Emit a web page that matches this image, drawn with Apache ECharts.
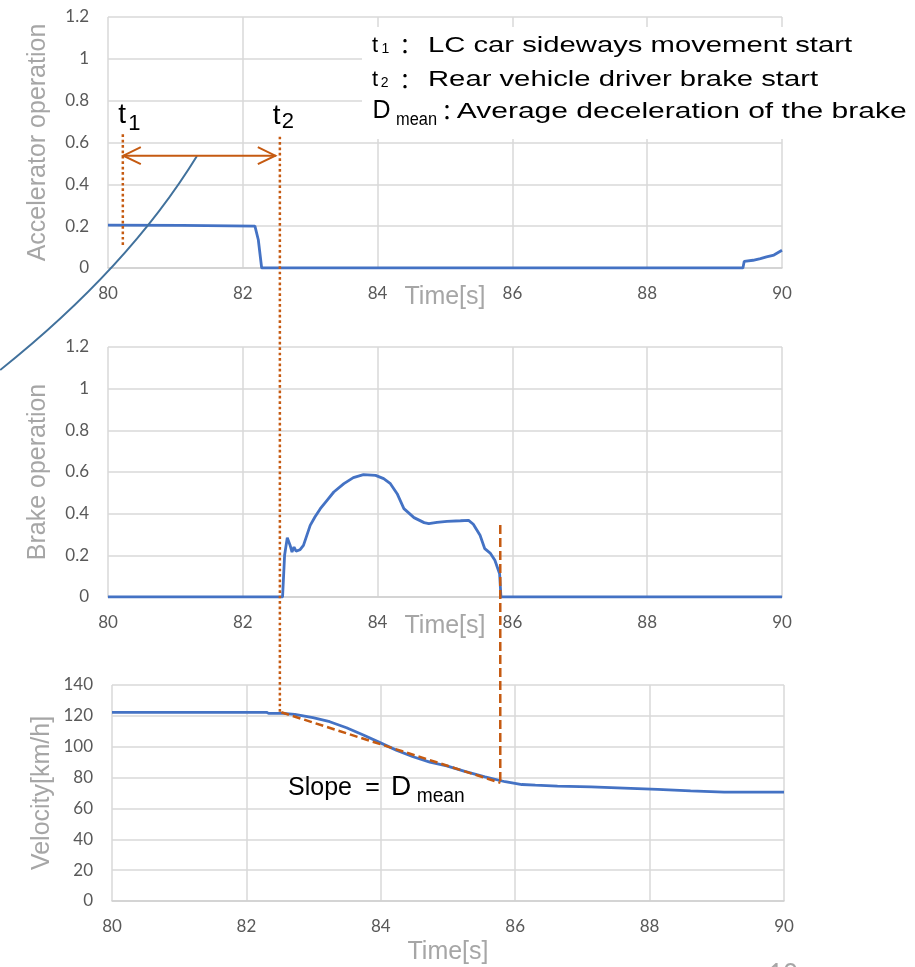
<!DOCTYPE html>
<html>
<head>
<meta charset="utf-8">
<script src="https://cdn.jsdelivr.net/npm/echarts@6/dist/echarts.min.js"></script>
<style>html,body{margin:0;padding:0;background:#fff;overflow:hidden}#main{width:915px;height:967px}</style>
</head>
<body>
<div id="main"></div>
<script>
// ---------------- data ----------------
const xTicks = [80, 82, 84, 86, 88, 90];

const accelT = [80, 81.1, 81.12, 82.18, 82.23, 82.28, 89.42, 89.44, 89.57, 89.68, 89.77, 89.88, 90];
const accelV = [0.205, 0.204, 0.2, 0.2, 0.135, 0, 0, 0.032, 0.037, 0.045, 0.053, 0.062, 0.085];

const brakeT = [80, 82.59, 82.62, 82.66, 82.70, 82.73, 82.76, 82.79, 82.85, 82.90, 82.95, 83.00, 83.07, 83.15, 83.25, 83.35, 83.50, 83.64, 83.79, 83.97, 84.09, 84.19, 84.29, 84.39, 84.54, 84.69, 84.76, 84.88, 85.03, 85.23, 85.35, 85.42, 85.52, 85.59, 85.67, 85.74, 85.81, 85.83, 90];
const brakeV = [0, 0, 0.2, 0.285, 0.25, 0.216, 0.24, 0.22, 0.227, 0.248, 0.296, 0.344, 0.384, 0.424, 0.464, 0.504, 0.544, 0.573, 0.587, 0.584, 0.568, 0.544, 0.496, 0.424, 0.381, 0.357, 0.352, 0.358, 0.363, 0.366, 0.368, 0.349, 0.296, 0.232, 0.211, 0.176, 0.112, 0, 0];

const velT = [80, 82.3, 82.33, 82.55, 82.72, 82.99, 83.24, 83.49, 83.74, 83.98, 84.23, 84.48, 84.73, 84.98, 85.25, 85.55, 85.85, 86.1, 86.3, 86.63, 87.13, 87.62, 88.12, 88.61, 89.11, 90];
const velV = [122.3, 122.3, 121.6, 121.6, 121.0, 118.8, 116.2, 112.3, 107.6, 102.8, 97.8, 93.5, 90.0, 87.6, 84.0, 80.5, 77.3, 75.5, 75.1, 74.5, 74.0, 73.2, 72.3, 71.4, 70.6, 70.6];

// annotation values (data coordinates)
const t1 = 80.22, t2 = 82.55, tEnd = 85.82;
const t1Range = [0.11, 0.647];
const t2Top = 0.628, t2Bottom = 122.3;
const tEndTop = 0.346, tEndBottom = 77;
const slopeT = [82.52, 85.78];
const slopeV = [122.3, 76.6];
const arrowY = 0.537, arrowEnd = 82.49;
const curvePts = [[78.40, -0.488], [80.30, 0.0], [81.32, 0.535]];

const legendLines = [
  { sym: 't', sub: '1', text: 'LC car sideways movement start' },
  { sym: 't', sub: '2', text: 'Rear vehicle driver brake start' },
  { sym: 'D', sub: 'mean', text: 'Average deceleration of the brake' }
];
const yNames = ['Accelerator operation', 'Brake operation', 'Velocity[km/h]'];

// ---------------- chart ----------------
const zip = (a, b) => a.map((v, i) => [v, b[i]]);
const BLUE = '#4472C4', ORANGE = '#C55A11', GRID = '#D9D9D9';
const TICKFONT = 'Lato, "Open Sans", sans-serif';
const ARIAL = '"Liberation Sans", Arial, sans-serif';

const chart = echarts.init(document.getElementById('main'));

const grids = [
  { left: 108, top: 17, width: 674, height: 251 },
  { left: 108, top: 347, width: 674, height: 250 },
  { left: 112, top: 685, width: 672, height: 216 }
];
const nameGaps = [17, 17, 39];

function xAx(i) {
  return {
    type: 'value', gridIndex: i, min: xTicks[0], max: xTicks[xTicks.length - 1], interval: 2,
    axisLine: { show: true, lineStyle: { color: '#CFCFCF', width: 1.5 } },
    axisTick: { show: false },
    splitLine: { show: true, lineStyle: { color: GRID, width: 1.5 } },
    axisLabel: { color: '#595959', fontSize: 17, fontFamily: TICKFONT, margin: 17 },
    name: 'Time[s]', nameLocation: 'middle', nameGap: nameGaps[i], nameMoveOverlap: false,
    nameTextStyle: { color: '#A6A6A6', fontSize: 25, fontFamily: ARIAL }
  };
}
function yAx(i, max, interval) {
  return {
    type: 'value', gridIndex: i, min: 0, max, interval,
    axisLine: { show: false }, axisTick: { show: false },
    splitLine: { show: true, lineStyle: { color: GRID, width: 1.5 } },
    axisLabel: { color: '#595959', fontSize: 17, fontFamily: TICKFONT, margin: 19 },
    name: yNames[i], nameLocation: 'middle', nameRotate: 90, nameGap: 57, nameMoveOverlap: false,
    nameTextStyle: { color: '#A6A6A6', fontSize: 25, fontFamily: ARIAL }
  };
}

const lineS = (i, data, extra) => Object.assign({
  type: 'line', xAxisIndex: i, yAxisIndex: i, data, showSymbol: false, symbol: 'none',
  lineStyle: { color: BLUE, width: 2.8 }, z: 3, silent: true
}, extra || {});

chart.setOption({
  animation: false,
  backgroundColor: '#fff',
  grid: grids,
  xAxis: [xAx(0), xAx(1), xAx(2)],
  yAxis: [yAx(0, 1.2, 0.2), yAx(1, 1.2, 0.2), yAx(2, 140, 20)],
  series: [
    lineS(0, zip(accelT, accelV)),
    lineS(1, zip(brakeT, brakeV)),
    lineS(2, zip(velT, velV)),
    lineS(0, [[t1, t1Range[0]], [t1, t1Range[1]]], { lineStyle: { color: ORANGE, width: 2.5, type: [2.7, 2.7] }, z: 4 }),
    lineS(2, zip(slopeT, slopeV), { lineStyle: { color: ORANGE, width: 2.5, type: [8, 4] }, z: 4 })
  ]
});

// ---------------- annotations ----------------
const px = (g, x, y) => chart.convertToPixel({ gridIndex: g }, [x, y]);
const mctx = document.createElement('canvas').getContext('2d');
function measure(text, fs, fam) { mctx.font = fs + 'px ' + fam; return mctx.measureText(text).width; }
function txt(x, base, text, fs, o) {
  o = o || {};
  const fam = o.fam || ARIAL;
  const sx = o.width ? o.width / measure(text, fs, fam) : 1;
  const al = o.align || 'left';
  return {
    type: 'text', x, y: base + 0.155 * fs, scaleX: sx, z: 20, silent: true,
    style: { text, fontSize: fs, fontFamily: fam, fill: o.color || '#000',
      align: al, textAlign: al, verticalAlign: 'bottom', textVerticalAlign: 'bottom' }
  };
}

const els = [];
// white box behind legend text
els.push({ type: 'rect', z: 6, silent: true, shape: { x: 362, y: 27, width: 553, height: 112 }, style: { fill: '#fff' } });
// legend lines
const lg = [
  { base: 53.5, symX: 372, symFs: 22, subX: 381.5, subBase: 53.5, subFs: 14, subW: null, colX: 405, textX: 428, textW: 424 },
  { base: 88, symX: 372, symFs: 22, subX: 380.7, subBase: 88, subFs: 14, subW: null, colX: 405, textX: 428, textW: 390 },
  { base: 119.5, symX: 372.5, symFs: 25, subX: 396, subBase: 126.7, subFs: 18, subW: 41, colX: 447, textX: 456.7, textW: 450 }
];
legendLines.forEach((L, i) => {
  const g = lg[i];
  els.push(txt(g.symX, g.base, L.sym, g.symFs));
  els.push(txt(g.subX, g.subBase, L.sub, g.subFs, g.subW ? { width: g.subW } : {}));
  els.push(txt(g.colX, g.base, '：', 22, { align: 'center', fam: '"Noto Sans CJK JP", sans-serif' }));
  els.push(txt(g.textX, g.base, L.text, 22, { width: g.textW }));
});

// t2 dotted line across charts
const t2a = px(0, t2, t2Top), t2b = px(2, t2, t2Bottom);
els.push({ type: 'line', z: 15, silent: true, shape: { x1: t2a[0], y1: t2a[1], x2: t2a[0], y2: t2b[1] },
  style: { stroke: ORANGE, lineWidth: 2.5, lineDash: [2.7, 2.7] } });
// end-of-brake dashed line
const tea = px(1, tEnd, tEndTop), teb = px(2, tEnd, tEndBottom);
els.push({ type: 'line', z: 15, silent: true, shape: { x1: tea[0], y1: tea[1], x2: tea[0], y2: teb[1] },
  style: { stroke: ORANGE, lineWidth: 2.5, lineDash: [9, 4] } });
// double arrow
const aL = px(0, t1, arrowY), aR = px(0, arrowEnd, arrowY);
els.push({ type: 'line', z: 15, silent: true, shape: { x1: aL[0], y1: aL[1], x2: aR[0], y2: aR[1] }, style: { stroke: ORANGE, lineWidth: 2 } });
els.push({ type: 'polyline', z: 15, silent: true, shape: { points: [[aL[0] + 18, aL[1] - 8.5], [aL[0] + 0.5, aL[1]], [aL[0] + 18, aL[1] + 8.5]] }, style: { stroke: ORANGE, lineWidth: 2, fill: null } });
els.push({ type: 'polyline', z: 15, silent: true, shape: { points: [[aR[0] - 18, aR[1] - 8.5], [aR[0] - 0.5, aR[1]], [aR[0] - 18, aR[1] + 8.5]] }, style: { stroke: ORANGE, lineWidth: 2, fill: null } });
// decorative curve
const c0 = px(0, curvePts[0][0], curvePts[0][1]), c1 = px(0, curvePts[1][0], curvePts[1][1]), c2 = px(0, curvePts[2][0], curvePts[2][1]);
els.push({ type: 'bezierCurve', z: 14, silent: true, shape: { x1: c0[0], y1: c0[1], cpx1: c1[0], cpy1: c1[1], x2: c2[0], y2: c2[1] },
  style: { stroke: '#41719C', lineWidth: 2, fill: null } });
// t1 / t2 labels
const p1 = px(0, t1, 0), p2 = px(0, t2, 0);
els.push(txt(p1[0] - 4.5, 125, 't', 28));
els.push(txt(p1[0] + 5.5, 131.7, '1', 22));
els.push(txt(p2[0] - 7, 125.7, 't', 28));
els.push(txt(p2[0] + 2, 130, '2', 22));
// slope label
const sp = px(2, 82.62, 0);
els.push(txt(sp[0], 796.7, 'Slope', 25));
els.push(txt(372.5, 796.7, '=', 25, { align: 'center' }));
els.push(txt(391, 796.7, 'D', 28));
els.push(txt(416.7, 803.3, 'mean', 20, { width: 48 }));
// slide number (cut off at bottom)
els.push({ type: 'text', x: 768, y: 961.5, z: 20, silent: true, style: { text: '10', fontSize: 26, fontFamily: TICKFONT, fill: '#A6A6A6', verticalAlign: 'top', textVerticalAlign: 'top' } });

chart.setOption({ graphic: els });
</script>
</body>
</html>
